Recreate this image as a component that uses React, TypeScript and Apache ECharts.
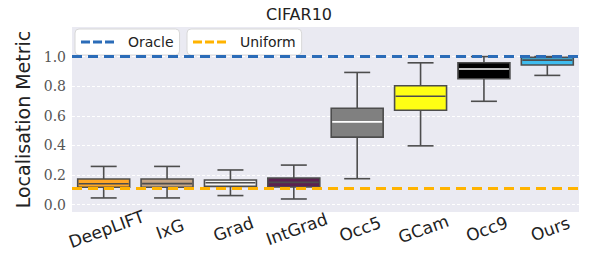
import React, { useEffect, useRef } from "react";
import * as echarts from "echarts";

const categories = ["DeepLIFT", "IxG", "Grad", "IntGrad", "Occ5", "GCam", "Occ9", "Ours"];
// [min, q1, median, q3, max]
const boxValues = [
  [0.045, 0.117, 0.141, 0.173, 0.258],
  [0.045, 0.117, 0.142, 0.173, 0.258],
  [0.061, 0.123, 0.148, 0.166, 0.234],
  [0.038, 0.119, 0.15, 0.18, 0.267],
  [0.175, 0.456, 0.559, 0.651, 0.893],
  [0.397, 0.638, 0.732, 0.803, 0.958],
  [0.698, 0.85, 0.916, 0.958, 1.0],
  [0.873, 0.943, 0.976, 0.995, 1.0],
];
const boxColors = ["#ffa726", "#c4a484", "#f4f4f4", "#5b2150", "#808080", "#ffff14", "#000000", "#3fbcee"];
const medianColors = ["#4d4d4d", "#4d4d4d", "#4d4d4d", "#4d4d4d", "#ffffff", "#4d4d4d", "#ffffff", "#4d4d4d"];
const oracleValue = 1.0;
const uniformValue = 0.11;
const yTicks = [0, 0.2, 0.4, 0.6, 0.8, 1.0];

const dashIcon = "path://M0,0H9V3H0Z M12,0H21V3H12Z M24,0H33V3H24Z";

export default function App() {
  const ref = useRef<HTMLDivElement>(null);
  useEffect(() => {
    if (!ref.current) return;
    const chart = echarts.init(ref.current, null, { renderer: "svg" });
    const edge = "#4d4d4d";
    const legendBase = {
      top: 29,
      itemWidth: 33,
      itemHeight: 3,
      padding: [6, 6, 6, 6],
      backgroundColor: "#ffffff",
      borderColor: "#d8d8d8",
      borderWidth: 1,
      borderRadius: 4,
      textStyle: { fontFamily: "DejaVu Sans", fontSize: 14, color: "#222", padding: [0, 0, 0, 9] },
    };
    chart.setOption({
      animation: false,
      backgroundColor: "#ffffff",
      title: {
        text: "CIFAR10",
        left: "center",
        top: 1,
        textStyle: { fontFamily: "DejaVu Sans", fontSize: 16, fontWeight: "normal", color: "#222" },
      },
      legend: [
        { ...legendBase, data: [{ name: "Oracle", icon: dashIcon }], left: 75 },
        { ...legendBase, data: [{ name: "Uniform", icon: dashIcon }], left: 187 },
      ],
      grid: { left: 72, right: 19, top: 27, bottom: 67, backgroundColor: "#eaeaf2", show: true, borderWidth: 0 },
      xAxis: {
        type: "category",
        data: categories,
        axisLine: { show: false },
        axisTick: { show: false },
        splitLine: { show: false },
        axisLabel: {
          rotate: 20,
          align: "center",
          verticalAlign: "top",
          margin: 9,
          fontFamily: "DejaVu Sans",
          fontSize: 17,
          color: "#222",
          interval: 0,
        },
      },
      yAxis: {
        type: "value",
        min: -0.05,
        max: 1.2,
        name: "Localisation Metric",
        nameLocation: "middle",
        nameGap: 32,
        nameTextStyle: { fontFamily: "DejaVu Sans", fontSize: 19, color: "#222" },
        axisLine: { show: false },
        axisTick: { show: false, customValues: yTicks },
        axisLabel: {
          customValues: yTicks,
          formatter: (v: number) => v.toFixed(1),
          fontFamily: "DejaVu Serif",
          fontSize: 14,
          color: "#555",
          margin: 6,
        },
        splitLine: { show: true, lineStyle: { color: "#ffffff", type: [3, 2], width: 1 } },
      },
      series: [
        {
          name: "Oracle",
          type: "line",
          data: [],
          z: 1,
          itemStyle: { color: "#2b6cb8" },
          lineStyle: { color: "#2b6cb8", width: 3, type: [10, 6] },
          markLine: {
            silent: true,
            symbol: "none",
            label: { show: false },
            lineStyle: { color: "#2b6cb8", width: 3, type: [10, 6] },
            data: [{ yAxis: oracleValue }],
          },
        },
        {
          name: "Uniform",
          type: "line",
          data: [],
          z: 1,
          itemStyle: { color: "#ffb300" },
          lineStyle: { color: "#ffb300", width: 3, type: [10, 6] },
          markLine: {
            silent: true,
            symbol: "none",
            label: { show: false },
            lineStyle: { color: "#ffb300", width: 3, type: [10, 6] },
            data: [{ yAxis: uniformValue }],
          },
        },
        {
          type: "custom",
          z: 3,
          data: boxValues.map((b, i) => [i, ...b]),
          encode: { x: 0, y: [1, 2, 3, 4, 5] },
          renderItem: (params: any, api: any) => {
            const i = api.value(0);
            const vals = [1, 2, 3, 4, 5].map((k) => api.value(k));
            const pts = vals.map((v) => api.coord([i, v]));
            const cx = pts[0][0];
            const bw = api.size([1, 0])[0] * 0.82;
            const cw = bw / 2;
            const [pMin, pQ1, pMed, pQ3, pMax] = pts.map((p: number[]) => p[1]);
            const ls = { stroke: edge, lineWidth: 1.6 };
            return {
              type: "group",
              children: [
                { type: "line", shape: { x1: cx, y1: pQ1, x2: cx, y2: pMin }, style: ls },
                { type: "line", shape: { x1: cx, y1: pQ3, x2: cx, y2: pMax }, style: ls },
                { type: "line", shape: { x1: cx - cw / 2, y1: pMin, x2: cx + cw / 2, y2: pMin }, style: ls },
                { type: "line", shape: { x1: cx - cw / 2, y1: pMax, x2: cx + cw / 2, y2: pMax }, style: ls },
                {
                  type: "rect",
                  shape: { x: cx - bw / 2, y: pQ3, width: bw, height: pQ1 - pQ3 },
                  style: { fill: boxColors[i], stroke: edge, lineWidth: 1.6 },
                },
                {
                  type: "line",
                  shape: { x1: cx - bw / 2 + 1, y1: pMed, x2: cx + bw / 2 - 1, y2: pMed },
                  style: { stroke: medianColors[i], lineWidth: 1.6 },
                },
              ],
            };
          },
        },
      ],
    });
    return () => chart.dispose();
  }, []);
  return <div ref={ref} style={{ position: "fixed", left: 0, top: 0, width: 598, height: 279 }} />;
}
